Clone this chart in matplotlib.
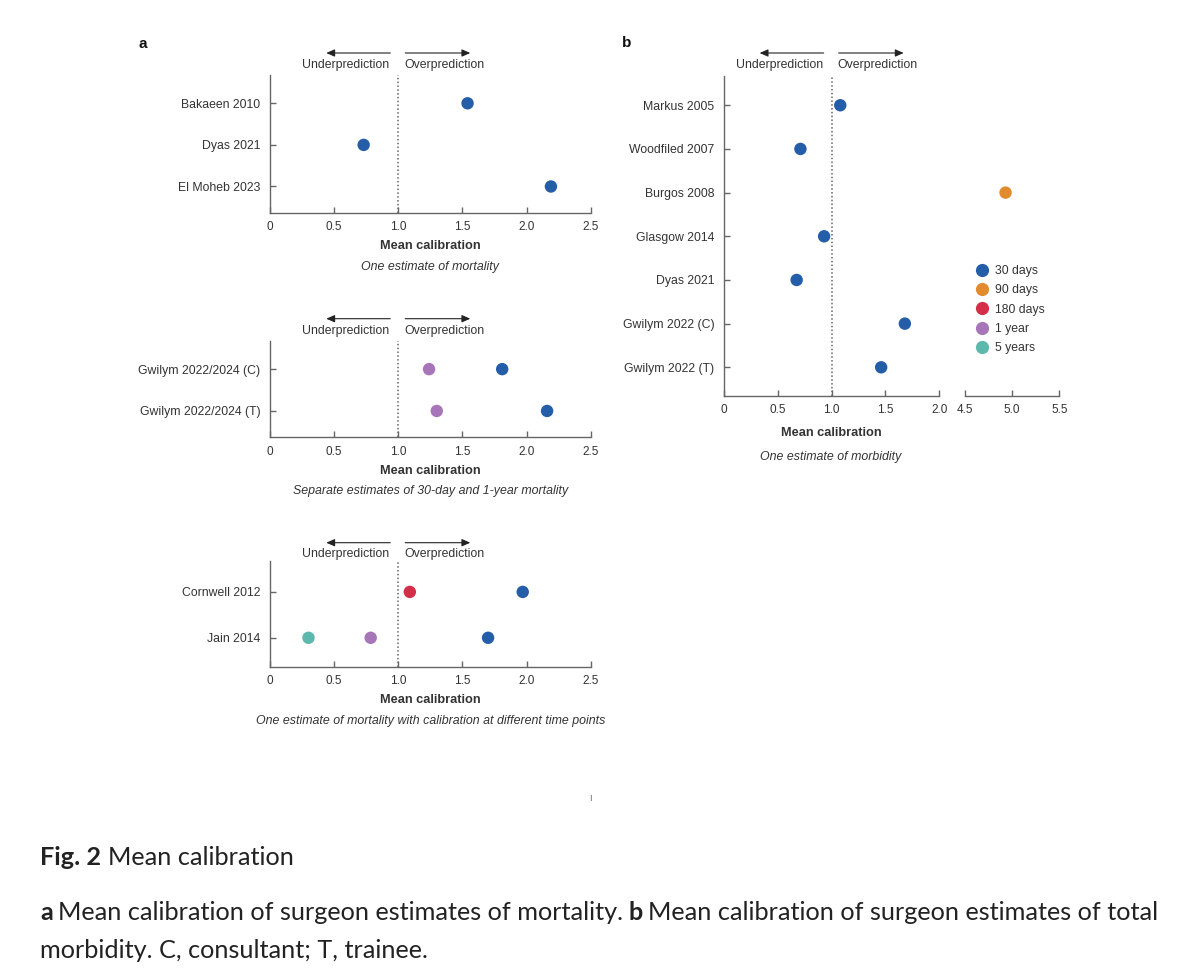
import matplotlib
matplotlib.use("Agg")
import matplotlib.pyplot as plt
import matplotlib.transforms as mtransforms
from matplotlib.lines import Line2D

plt.rcParams['font.family'] = ['Liberation Sans', 'DejaVu Sans']

# colours per time point
periods = ["30 days", "90 days", "180 days", "1 year", "5 years"]
period_colors = ["#255ea8", "#e28a2e", "#d42e48", "#a676b8", "#5cb8ad"]

# panel a, top: one estimate of mortality
a1_studies = ["Bakaeen 2010", "Dyas 2021", "El Moheb 2023"]
a1_row = [0, 1, 2]
a1_value = [1.54, 0.73, 2.19]
a1_period = ["30 days", "30 days", "30 days"]

# panel a, middle: 30-day and 1-year mortality
a2_studies = ["Gwilym 2022/2024 (C)", "Gwilym 2022/2024 (T)"]
a2_row = [0, 0, 1, 1]
a2_value = [1.24, 1.81, 1.30, 2.16]
a2_period = ["1 year", "30 days", "1 year", "30 days"]

# panel a, bottom: calibration at different time points
a3_studies = ["Cornwell 2012", "Jain 2014"]
a3_row = [0, 0, 1, 1, 1]
a3_value = [1.09, 1.97, 0.30, 0.785, 1.70]
a3_period = ["180 days", "30 days", "5 years", "1 year", "30 days"]

# panel b: one estimate of morbidity
b_studies = ["Markus 2005", "Woodfiled 2007", "Burgos 2008", "Glasgow 2014",
             "Dyas 2021", "Gwilym 2022 (C)", "Gwilym 2022 (T)"]
b_row = [0, 1, 2, 3, 4, 5, 6]
b_value = [1.08, 0.71, 4.93, 0.93, 0.675, 1.68, 1.46]
b_period = ["30 days", "30 days", "90 days", "30 days", "30 days", "30 days", "30 days"]

a_ticks = [0, 0.5, 1.0, 1.5, 2.0, 2.5]
a_ticklabels = ["0", "0.5", "1.0", "1.5", "2.0", "2.5"]
b_ticks_left = [0, 0.5, 1.0, 1.5, 2.0]
b_ticklabels_left = ["0", "0.5", "1.0", "1.5", "2.0"]
b_ticks_right = [4.5, 5.0, 5.5]
b_ticklabels_right = ["4.5", "5.0", "5.5"]

W, H = 1200, 980
fig = plt.figure(figsize=(W / 100, H / 100), dpi=100)
fig.patch.set_facecolor("white")

TXT = "#333333"
AX = "#666666"
FS = 8.8
cmap = dict(zip(periods, period_colors))


def box(left, top, right, bottom):
    return [left / W, 1 - bottom / H, (right - left) / W, (bottom - top) / H]


def style_axis(ax):
    for s in ["top", "right"]:
        ax.spines[s].set_visible(False)
    for s in ["left", "bottom"]:
        ax.spines[s].set_color(AX)
        ax.spines[s].set_linewidth(1.0)
    ax.tick_params(direction="in", length=4, width=1.0, color=AX,
                   labelcolor=TXT)
    ax.tick_params(axis="x", pad=6, labelsize=8.5)
    ax.tick_params(axis="y", pad=7, labelsize=FS)


def offset(ax, dx, dy):
    return ax.get_xaxis_transform() + mtransforms.ScaledTranslation(
        dx / 100, dy / 100, fig.dpi_scale_trans)


def pred_arrows(ax, arrow_dy=22, text_dy=10):
    kw = dict(arrowstyle="-|>,head_length=0.5,head_width=0.22",
              color="#222222", lw=0.8, shrinkA=0, shrinkB=0)
    ax.annotate("", xy=(1.0, 1.0), xycoords=offset(ax, -72, arrow_dy),
                xytext=(1.0, 1.0), textcoords=offset(ax, -8, arrow_dy),
                arrowprops=kw, annotation_clip=False)
    ax.annotate("", xy=(1.0, 1.0), xycoords=offset(ax, 72, arrow_dy),
                xytext=(1.0, 1.0), textcoords=offset(ax, 7, arrow_dy),
                arrowprops=kw, annotation_clip=False)
    ax.text(1.0, 1.0, "Underprediction", transform=offset(ax, -9, text_dy),
            ha="right", va="center", fontsize=FS, color=TXT)
    ax.text(1.0, 1.0, "Overprediction", transform=offset(ax, 6, text_dy),
            ha="left", va="center", fontsize=FS, color=TXT)


def panel_a(rect, studies, rows, values, per, subtitle, arrow_dy=22, text_dy=10):
    ax = fig.add_axes(box(*rect))
    style_axis(ax)
    ax.scatter(values, rows, s=80, c=[cmap[p] for p in per], zorder=3, linewidths=0)
    ax.axvline(1.0, color="#666666", lw=1.1, ls=(0, (1, 1.5)), zorder=1)
    ax.set_xlim(0, 2.5)
    ax.set_ylim(len(studies) - 1 + 0.63, -0.68)
    ax.set_xticks(a_ticks)
    ax.set_xticklabels(a_ticklabels)
    ax.set_yticks(range(len(studies)))
    ax.set_yticklabels(studies)
    ax.set_xlabel("Mean calibration", fontsize=9.2, fontweight="bold",
                  color=TXT, labelpad=5)
    ax.text(0.5, 0, subtitle,
            transform=ax.transAxes + mtransforms.ScaledTranslation(0, -48 / 100, fig.dpi_scale_trans),
            ha="center", va="top", fontsize=8.9, style="italic", color=TXT)
    pred_arrows(ax, arrow_dy, text_dy)
    return ax


ax_a1 = panel_a((270, 75, 590.7, 212.7), a1_studies, a1_row, a1_value, a1_period,
                "One estimate of mortality")
ax_a2 = panel_a((270, 340.7, 590.7, 437.3), a2_studies, a2_row, a2_value, a2_period,
                "Separate estimates of 30-day and 1-year mortality")
ax_a3 = panel_a((270, 560.7, 590.7, 666.7), a3_studies, a3_row, a3_value, a3_period,
                "One estimate of mortality with calibration at different time points",
                arrow_dy=18, text_dy=7)

# panel b, broken x axis
axb1 = fig.add_axes(box(724, 76, 939.3, 395.7))
axb2 = fig.add_axes(box(965, 76, 1059.3, 395.7), sharey=axb1)
style_axis(axb1)
style_axis(axb2)
for ax in [axb1, axb2]:
    ax.scatter(b_value, b_row, s=80, c=[cmap[p] for p in b_period], zorder=3,
               linewidths=0, clip_on=True)
axb1.axvline(1.0, color="#666666", lw=1.1, ls=(0, (1, 1.5)), zorder=1)
axb1.set_xlim(0, 2.0)
axb2.set_xlim(4.5, 5.5)
axb1.set_ylim(len(b_studies) - 1 + 0.65, -0.67)
axb1.set_yticks(range(len(b_studies)))
axb1.set_yticklabels(b_studies)
axb1.set_xticks(b_ticks_left)
axb1.set_xticklabels(b_ticklabels_left)
axb2.set_xticks(b_ticks_right)
axb2.set_xticklabels(b_ticklabels_right)
axb2.spines["left"].set_visible(False)
axb2.tick_params(axis="y", left=False, labelleft=False)
# end caps of the two axis segments
axb1.tick_params(axis="x", which="minor", direction="inout", length=7, width=1.0, color=AX)
axb1.set_xticks([2.0], minor=True)
axb2.tick_params(axis="x", which="minor", direction="inout", length=7, width=1.0, color=AX)
axb2.set_xticks([4.5], minor=True)
pred_arrows(axb1, 23, 11)
fig.text(831 / W, 1 - 432.7 / H, "Mean calibration", ha="center", va="center",
         fontsize=9.2, fontweight="bold", color=TXT)
fig.text(831 / W, 1 - 457.3 / H, "One estimate of morbidity", ha="center",
         va="center", fontsize=8.9, style="italic", color=TXT)

handles = [Line2D([], [], marker="o", ls="", markersize=9.5, markeredgewidth=0,
                  markerfacecolor=c) for c in period_colors]
fig.legend(handles, periods, loc="upper left",
           bbox_to_anchor=(977 / W, 1 - 265 / H), frameon=False, fontsize=8.8,
           handlelength=0.8, handletextpad=0.7, labelspacing=0.6,
           borderpad=0, borderaxespad=0, labelcolor=TXT)

# panel letters
fig.text(143 / W, 1 - 44 / H, "a", ha="center", va="center", fontsize=11,
         fontweight="bold", color="#111111")
fig.text(627 / W, 1 - 43 / H, "b", ha="center", va="center", fontsize=11,
         fontweight="bold", color="#111111")

# stray mark below panel a
fig.text(590 / W, 1 - 798 / H, "ı", ha="center", va="center", fontsize=7, color="#777777")

# caption
cap_font = ["Lato", "DejaVu Sans"]
CFS = 18.2
t1 = fig.text(40 / W, 1 - 857 / H, "Fig. 2", ha="left", va="center", fontsize=CFS,
              fontweight="bold", color="#222222", family=cap_font)
fig.canvas.draw()
bb = t1.get_window_extent()
fig.text((bb.x1 + 7) / W, 1 - 857 / H, "Mean calibration", ha="left", va="center",
         fontsize=CFS, color="#222222", family=cap_font)
t2 = fig.text(40 / W, 1 - 912 / H, "a", ha="left", va="center", fontsize=CFS,
              fontweight="bold", color="#222222", family=cap_font)
bb = t2.get_window_extent()
t3 = fig.text((bb.x1 + 5) / W, 1 - 912 / H, "Mean calibration of surgeon estimates of mortality.",
              ha="left", va="center", fontsize=CFS, color="#222222", family=cap_font)
bb = t3.get_window_extent()
t4 = fig.text((bb.x1 + 6) / W, 1 - 912 / H, "b", ha="left", va="center", fontsize=CFS,
              fontweight="bold", color="#222222", family=cap_font)
bb = t4.get_window_extent()
fig.text((bb.x1 + 5) / W, 1 - 912 / H, "Mean calibration of surgeon estimates of total",
         ha="left", va="center", fontsize=CFS, color="#222222", family=cap_font)
fig.text(40 / W, 1 - 950 / H, "morbidity. C, consultant; T, trainee.", ha="left",
         va="center", fontsize=CFS, color="#222222", family=cap_font)

fig.savefig("out.png", dpi=100, facecolor="white")
